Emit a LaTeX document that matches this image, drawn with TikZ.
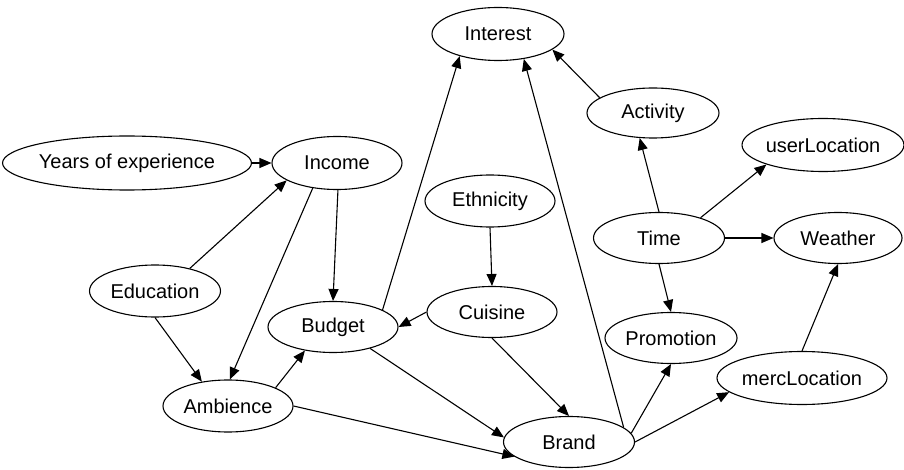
\documentclass[tikz,border=0pt]{standalone}
\usepackage{fontspec}
\setmainfont{Liberation Sans}
\usetikzlibrary{shapes.geometric,arrows.meta}
\begin{document}
\begin{tikzpicture}[x=1pt,y=-1pt,
  vnode/.style={draw, ellipse, line width=1.1pt, inner sep=0pt, minimum height=52pt,
    font=\fontsize{20}{24}\selectfont},
  edge/.style={line width=1.1pt, -{Triangle[length=12pt,width=10pt]}}]
\useasboundingbox (0,0) rectangle (904,470);
\fill[white] (0,0) rectangle (904,470);
\node[vnode, minimum width=132pt, minimum height=53pt] (int) at (498,34) {Interest};
\node[vnode, minimum width=132pt, minimum height=50pt] (act) at (653,113) {Activity};
\node[vnode, minimum width=158pt, minimum height=53pt] (uloc) at (823,145) {userLocation};
\node[vnode, minimum width=232pt, minimum height=54pt] (yoe) at (127,163) {Years of experience};
\node[vnode, minimum width=130pt, minimum height=53pt] (inc) at (337,163) {Income};
\node[vnode, minimum width=130pt] (eth) at (490,201) {Ethnicity};
\node[vnode, minimum width=131pt, minimum height=51pt] (time) at (659,238) {Time};
\node[vnode, minimum width=128pt, minimum height=51pt] (wea) at (838,238) {Weather};
\node[vnode, minimum width=131pt] (edu) at (155,291) {Education};
\node[vnode, minimum width=130pt, minimum height=51pt] (cui) at (492,312) {Cuisine};
\node[vnode, minimum width=130pt, minimum height=51pt] (bud) at (333,327) {Budget};
\node[vnode, minimum width=132pt, minimum height=51pt] (prom) at (671,338) {Promotion};
\node[vnode, minimum width=170pt, minimum height=53pt] (merc) at (802,378) {mercLocation};
\node[vnode, minimum width=130pt] (amb) at (228,406) {Ambience};
\node[vnode, minimum width=131pt, minimum height=51pt] (brand) at (569,442) {Brand};

\draw[edge] (yoe.east) -- (inc.west);
\draw[edge] (edu.33) -- (inc.199);
\draw[edge] (edu.south) -- (amb.137);
\draw[edge] (inc.226) -- (amb.86);
\draw[edge] (inc.272) -- (bud.90);
\draw[edge] (bud.19) -- (int.210);
\draw[edge] (amb.21) -- (bud.220);
\draw[edge] (amb.east) -- (brand.195);
\draw[edge] (bud.330) -- (brand.176);
\draw[edge] (cui.west) -- (bud.east);
\draw[edge] (eth.south) -- (cui.north);
\draw[edge] (cui.south) -- (brand.north);
\draw[edge] (brand.15) -- (int.316);
\draw[edge] (brand.8) -- (prom.south);
\draw[edge] (brand.east) -- (merc.191);
\draw[edge] (act.164) -- (int.344);
\draw[edge] (time.north) -- (act.242);
\draw[edge] (time.26) -- (uloc.199);
\draw[edge] (time.east) -- (wea.west);
\draw[edge] (time.south) -- (prom.north);
\draw[edge] (merc.north) -- (wea.south);
\end{tikzpicture}
\end{document}
